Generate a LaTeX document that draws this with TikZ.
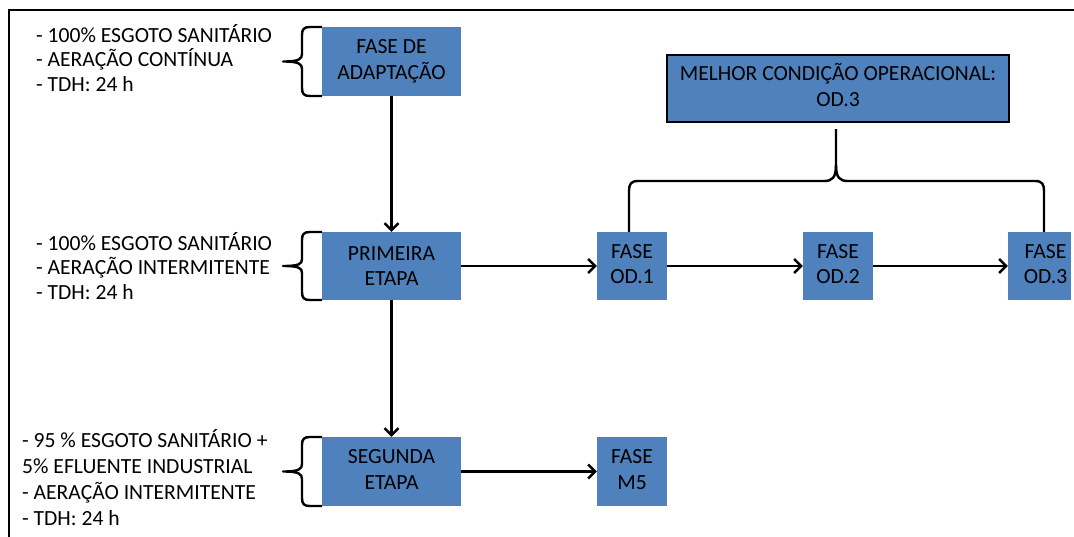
\documentclass[tikz,border=0pt]{standalone}
\usepackage{fontspec}
\setmainfont{Carlito}
\usetikzlibrary{arrows.meta}
\definecolor{boxblue}{HTML}{4F81BD}
\tikzset{
  box/.style={fill=boxblue, inner sep=0pt, align=center, font=\fontsize{21.6}{25.5}\selectfont},
  lbl/.style={inner sep=0pt, anchor=west, align=left, font=\fontsize{21.6}{24.8}\selectfont},
  br/.style={line width=2.4pt, line join=round},
  arr/.style={line width=2.4pt, -{Straight Barb[length=7pt,width=14pt,line width=2.4pt]}},
}
\begin{document}
\begin{tikzpicture}[x=1pt,y=-1pt]
\useasboundingbox (0,0) rectangle (1074,536);
\fill[white] (0,0) rectangle (1074,536);
% frame
\draw[line width=2.4pt] (9,540) -- (9,10) -- (1080,10);

% braces
\draw[br] (322,27) -- (310,27) .. controls (304,27) and (302,29) .. (302,35) -- (302,54) .. controls (302,59) and (299,61.5) .. (283,61.5)
  .. controls (299,61.5) and (302,64) .. (302,69) -- (302,88) .. controls (302,94) and (304,96) .. (310,96) -- (322,96);
\draw[br] (322,232) -- (310,232) .. controls (304,232) and (302,234) .. (302,240) -- (302,259) .. controls (302,264) and (299,266) .. (283,266)
  .. controls (299,266) and (302,268) .. (302,273) -- (302,292) .. controls (302,298) and (304,300) .. (310,300) -- (322,300);
\draw[br] (322,437) -- (310,437) .. controls (304,437) and (302,439) .. (302,445) -- (302,464) .. controls (302,469) and (299,471.5) .. (283,471.5)
  .. controls (299,471.5) and (302,474) .. (302,479) -- (302,498) .. controls (302,504) and (304,506) .. (310,506) -- (322,506);
\draw[br] (629,232) -- (629,191) .. controls (629,184) and (631,181) .. (638,181) -- (824,181) .. controls (832,181) and (836,178) .. (836,165) -- (836,129);
\draw[br] (1044,232) -- (1044,191) .. controls (1044,184) and (1042,181) .. (1035,181) -- (848,181) .. controls (840,181) and (836,178) .. (836,165);

% boxes
\node[box, minimum width=139pt, minimum height=69pt] (adapt) at (391.5,61.5) {FASE DE\\ADAPTAÇÃO};
\node[box, minimum width=139pt, minimum height=68pt] (prim) at (391.5,266) {PRIMEIRA\\ETAPA};
\node[box, minimum width=139pt, minimum height=69pt] (seg) at (391.5,471.5) {\raisebox{2pt}{\begin{tabular}{@{}c@{}}SEGUNDA\\ETAPA\end{tabular}}};
\node[box, minimum width=70pt, minimum height=68pt] (od1) at (632,266) {\raisebox{-4pt}{\begin{tabular}{@{}c@{}}FASE\\OD.1\end{tabular}}};
\node[box, minimum width=70pt, minimum height=68pt] (od2) at (838,266) {\raisebox{-4pt}{\begin{tabular}{@{}c@{}}FASE\\OD.2\end{tabular}}};
\node[box, minimum width=63pt, minimum height=68pt] (od3) at (1039.5,266) {\hspace*{12pt}\raisebox{-4pt}{\begin{tabular}{@{}c@{}}FASE\\OD.3\end{tabular}}};
\node[box, minimum width=70pt, minimum height=69pt] (m5) at (632,471.5) {\raisebox{-5pt}{\begin{tabular}{@{}c@{}}FASE\\M5\end{tabular}}};
\node[box, draw=black, line width=2.4pt, minimum width=342pt, minimum height=67pt] (best) at (838,88.5) {\raisebox{3pt}{\begin{tabular}{@{}c@{}}MELHOR CONDIÇÃO OPERACIONAL:\\OD.3\end{tabular}}};

% labels
\node[lbl] (t1) at (36,58) {- 100\% ESGOTO SANITÁRIO\\- AERAÇÃO CONTÍNUA\\- TDH: 24 h};
\node[lbl] (t2) at (36,266) {- 100\% ESGOTO SANITÁRIO\\- AERAÇÃO INTERMITENTE\\- TDH: 24 h};
\node[lbl, font=\fontsize{21.6}{26}\selectfont] (t3) at (22,478) {- 95 \% ESGOTO SANITÁRIO +\\5\% EFLUENTE INDUSTRIAL\\- AERAÇÃO INTERMITENTE\\- TDH: 24 h};

% arrows
\draw[arr] (adapt.south) -- (prim.north);
\draw[arr] (prim.south) -- (seg.north);
\draw[arr] (prim.east) -- (od1.west);
\draw[arr] (od1.east) -- (od2.west);
\draw[arr] (od2.east) -- (od3.west);
\draw[arr] (seg.east) -- (m5.west);
\end{tikzpicture}
\end{document}
